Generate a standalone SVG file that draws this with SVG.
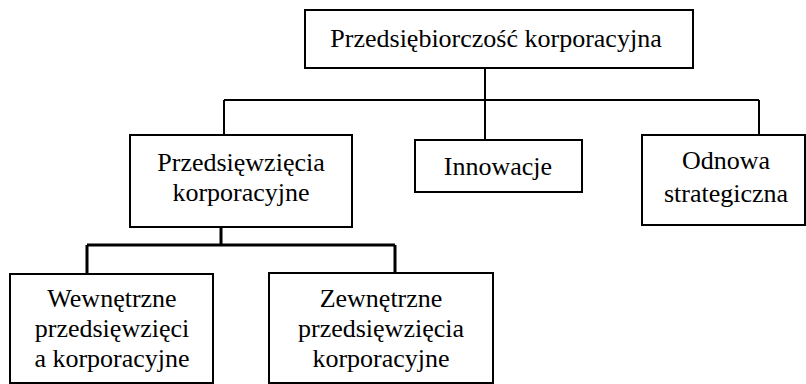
<svg xmlns="http://www.w3.org/2000/svg" width="806" height="384" viewBox="0 0 806 384">
<style>
.box{fill:#fff;stroke:#000;stroke-width:2}
.t{font-family:"Liberation Serif","Times New Roman",serif;font-size:26px;fill:#000;text-anchor:middle}
.c{fill:none;stroke:#000;stroke-width:2}
.c2{fill:none;stroke:#000;stroke-width:3}
</style>
<rect width="806" height="384" fill="#fff"/>
<g id="connectors">
<path class="c" d="M485 68V100M224 100H759M224 100V135M485 100V140M759 100V135"/>
<path class="c2" d="M221 227V245M87 245H395M87 245V274M395 245V273"/>
</g>
<g id="n-root">
<rect class="box" x="305" y="10" width="388" height="58"/>
<text class="t" x="496" y="47">Przedsiębiorczość korporacyjna</text>
</g>
<g id="n-przedsiewziecia">
<rect class="box" x="130" y="135" width="222" height="92"/>
<text class="t" x="241" y="171">Przedsięwzięcia</text>
<text class="t" x="241" y="201">korporacyjne</text>
</g>
<g id="n-innowacje">
<rect class="box" x="415" y="140" width="167" height="52"/>
<text class="t" x="498" y="175">Innowacje</text>
</g>
<g id="n-odnowa">
<rect class="box" x="642" y="135" width="163" height="90"/>
<text class="t" x="726" y="169">Odnowa</text>
<text class="t" x="726" y="202">strategiczna</text>
</g>
<g id="n-wewnetrzne">
<rect class="box" x="10" y="274" width="203" height="109"/>
<text class="t" x="112" y="307">Wewnętrzne</text>
<text class="t" x="112" y="337">przedsięwzięci</text>
<text class="t" x="112" y="367">a korporacyjne</text>
</g>
<g id="n-zewnetrzne">
<rect class="box" x="269" y="273" width="224" height="110"/>
<text class="t" x="381" y="307">Zewnętrzne</text>
<text class="t" x="381" y="337">przedsięwzięcia</text>
<text class="t" x="381" y="367">korporacyjne</text>
</g>
</svg>
